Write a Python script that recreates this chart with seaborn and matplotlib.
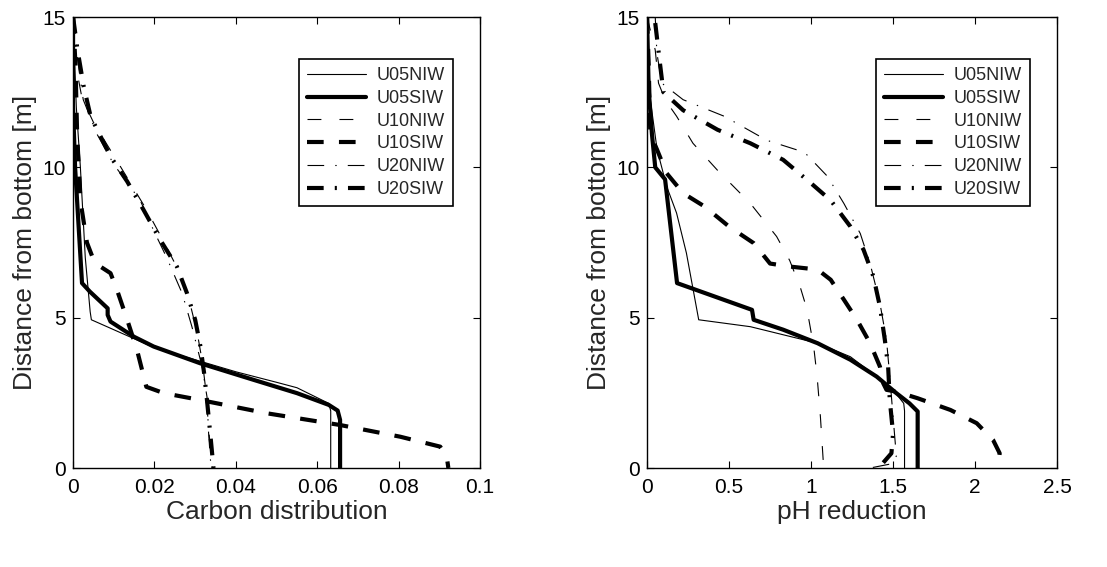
import matplotlib
matplotlib.use("Agg")
import matplotlib.pyplot as plt
import seaborn as sns

# ---- carbon distribution panel (x values, y = distance from bottom) ----
c_u05niw_x = [0, 0.0008, 0.0018, 0.003, 0.0042, 0.0045, 0.01, 0.02, 0.03, 0.04, 0.05, 0.055, 0.0628, 0.0633, 0.0633]
c_u05niw_y = [15, 12, 10, 7, 5.2, 4.93, 4.6, 4.0, 3.6, 3.2, 2.85, 2.67, 2.15, 1.9, 0]
c_u05siw_x = [0, 0, 0.0005, 0.0022, 0.0041, 0.0085, 0.0085, 0.0092, 0.0149, 0.0198, 0.0313, 0.0444, 0.055, 0.0628, 0.065, 0.0656, 0.0656]
c_u05siw_y = [15, 12, 10, 6.15, 5.87, 5.31, 5.09, 4.87, 4.37, 4.04, 3.48, 2.93, 2.49, 2.10, 1.91, 1.6, 0]
c_u10niw_x = [0, 0.0008, 0.0022, 0.005, 0.0095, 0.014, 0.018, 0.022, 0.0258, 0.0285, 0.0305, 0.0318, 0.0327, 0.0333, 0.0342]
c_u10niw_y = [15, 13.3, 12.3, 11.5, 10.5, 9.5, 8.6, 7.6, 6.6, 5.6, 4.5, 3.5, 2.5, 1.3, 0]
c_u10siw_x = [0, 0.0006, 0.001, 0.0018, 0.0034, 0.0051, 0.0067, 0.0092, 0.0108, 0.0133, 0.0157, 0.018, 0.0223, 0.0313, 0.0476, 0.0656, 0.0804, 0.0902, 0.0918, 0.0922]
c_u10siw_y = [15, 13.4, 11.1, 8.9, 7.5, 6.9, 6.7, 6.48, 5.92, 4.93, 3.93, 2.7, 2.49, 2.26, 1.82, 1.43, 1.04, 0.71, 0.38, 0]
c_u20niw_x = [0, 0.0015, 0.0025, 0.0059, 0.01, 0.0165, 0.0198, 0.023, 0.0268, 0.0292, 0.0317, 0.0329, 0.0333, 0.0339]
c_u20niw_y = [15, 13.2, 12.25, 11.1, 10.1, 8.9, 7.9, 7.0, 5.81, 4.7, 3.37, 2.37, 1.15, 0]
c_u20siw_x = [0, 0.0011, 0.0026, 0.0043, 0.0092, 0.0133, 0.0173, 0.0214, 0.0255, 0.028, 0.03, 0.0313, 0.0322, 0.0329, 0.0337, 0.0345]
c_u20siw_y = [15, 13.9, 12.7, 11.7, 10.36, 9.53, 8.59, 7.59, 6.7, 5.81, 4.93, 4.04, 3.15, 2.26, 1.15, 0]

# ---- pH reduction panel ----
p_u05niw_x = [0, 0.02, 0.061, 0.12, 0.18, 0.24, 0.315, 0.63, 1.04, 1.24, 1.4, 1.5, 1.565, 1.57, 1.57]
p_u05niw_y = [15, 12.25, 10.6, 9.36, 8.48, 7.15, 4.93, 4.7, 4.15, 3.7, 3.04, 2.6, 2.15, 1.9, 0]
p_u05siw_x = [0, 0.01, 0.03, 0.05, 0.11, 0.183, 0.64, 0.65, 0.83, 1.04, 1.24, 1.4, 1.52, 1.6, 1.65, 1.65]
p_u05siw_y = [15, 12.6, 11.1, 10, 9.6, 6.15, 5.26, 4.93, 4.6, 4.15, 3.6, 3.04, 2.49, 2.15, 1.88, 0]
p_u10niw_x = [0, 0.05, 0.07, 0.11, 0.18, 0.28, 0.43, 0.63, 0.79, 0.87, 0.935, 0.976, 1.016, 1.037, 1.057, 1.077]
p_u10niw_y = [15, 13.9, 12.8, 12.25, 11.7, 10.8, 9.9, 8.8, 7.7, 6.9, 6.0, 5.26, 4.04, 3.04, 1.71, 0]
p_u10siw_x = [0, 0.01, 0.02, 0.06, 0.12, 0.22, 0.35, 0.5, 0.65, 0.75, 0.87, 1.04, 1.12, 1.2, 1.28, 1.36, 1.42, 1.44, 1.46, 1.52, 1.65, 1.85, 2.01, 2.11, 2.15, 2.14]
p_u10siw_y = [15, 13.4, 11.1, 10.6, 9.8, 9.14, 8.7, 8.03, 7.48, 6.8, 6.7, 6.6, 6.26, 5.6, 4.93, 4.15, 3.37, 2.82, 2.6, 2.54, 2.32, 1.93, 1.49, 0.93, 0.49, 0]
p_u20niw_x = [0.05, 0.06, 0.09, 0.22, 0.47, 0.73, 0.96, 1.1, 1.2, 1.3, 1.36, 1.42, 1.46, 1.48, 1.5, 1.52, 1.5, 1.36]
p_u20niw_y = [15, 13.8, 12.8, 12.25, 11.7, 10.9, 10.5, 9.7, 8.8, 7.8, 6.8, 5.48, 4.26, 3.04, 1.71, 0.4, 0.15, 0]
p_u20siw_x = [0.05, 0.08, 0.1, 0.22, 0.43, 0.63, 0.83, 1.0, 1.12, 1.24, 1.32, 1.38, 1.42, 1.45, 1.47, 1.48, 1.5, 1.49, 1.42]
p_u20siw_y = [14.8, 13.4, 12.5, 11.9, 11.25, 10.8, 10.25, 9.47, 8.9, 8.03, 7.26, 6.37, 5.37, 4.26, 3.37, 2.26, 1.15, 0.49, 0.05]

labels = ["U05NIW", "U05SIW", "U10NIW", "U10SIW", "U20NIW", "U20SIW"]

sns.set_style("ticks")
plt.rcParams["font.family"] = ["Liberation Sans", "DejaVu Sans"]
plt.rcParams["lines.scale_dashes"] = False
plt.rcParams["xtick.direction"] = "in"
plt.rcParams["ytick.direction"] = "in"
plt.rcParams["xtick.top"] = True
plt.rcParams["ytick.right"] = True

thin, thick = 0.8, 3.0
styles = [
    (thin, "-"),
    (thick, "-"),
    (thin, (0, (10, 13))),
    (thick, (0, (12, 11))),
    (thin, (0, (12, 8, 1, 8))),
    (thick, (0, (12, 8, 1.5, 8))),
]

fig = plt.figure(figsize=(11.07, 5.67), dpi=100)
ax1 = fig.add_axes([0.066, 0.1746, 0.3677, 0.7954])
ax2 = fig.add_axes([0.5845, 0.1746, 0.3704, 0.7954])

carbon = [(c_u05niw_x, c_u05niw_y), (c_u05siw_x, c_u05siw_y), (c_u10niw_x, c_u10niw_y),
          (c_u10siw_x, c_u10siw_y), (c_u20niw_x, c_u20niw_y), (c_u20siw_x, c_u20siw_y)]
ph = [(p_u05niw_x, p_u05niw_y), (p_u05siw_x, p_u05siw_y), (p_u10niw_x, p_u10niw_y),
      (p_u10siw_x, p_u10siw_y), (p_u20niw_x, p_u20niw_y), (p_u20siw_x, p_u20siw_y)]

for ax, series in [(ax1, carbon), (ax2, ph)]:
    for (xs, ys), lab, (lw, ls) in zip(series, labels, styles):
        sns.lineplot(x=xs, y=ys, sort=False, estimator=None, ax=ax, color="black",
                     linewidth=lw, linestyle=ls, label=lab)
    ax.set_ylim(0, 15)
    ax.set_yticks([0, 5, 10, 15])
    ax.set_yticklabels(["0", "5", "10", "15"])
    ax.set_ylabel("Distance from bottom [m]", fontsize=19, labelpad=4)
    ax.tick_params(labelsize=15, length=5, width=0.8, colors="black")
    ax.tick_params(axis="x", pad=7)
    ax.tick_params(axis="y", pad=5)
    for sp in ax.spines.values():
        sp.set_linewidth(1.0)
        sp.set_color("black")
    leg = ax.legend(loc="upper right", bbox_to_anchor=(0.934, 0.907), fontsize=13,
                    handlelength=3.25, labelspacing=0.32, borderpad=0.45,
                    handletextpad=0.6, fancybox=False, framealpha=1, borderaxespad=0)
    leg.get_frame().set_edgecolor("black")
    leg.get_frame().set_linewidth(1.2)

ax1.set_xlim(0, 0.1)
ax1.set_xticks([0, 0.02, 0.04, 0.06, 0.08, 0.1])
ax1.set_xticklabels(["0", "0.02", "0.04", "0.06", "0.08", "0.1"])
ax1.set_xlabel("Carbon distribution", fontsize=19, labelpad=2)

ax2.set_xlim(0, 2.5)
ax2.set_xticks([0, 0.5, 1, 1.5, 2, 2.5])
ax2.set_xticklabels(["0", "0.5", "1", "1.5", "2", "2.5"])
ax2.set_xlabel("pH reduction", fontsize=19, labelpad=2)

fig.savefig("out.png", dpi=100)
plt.close(fig)
